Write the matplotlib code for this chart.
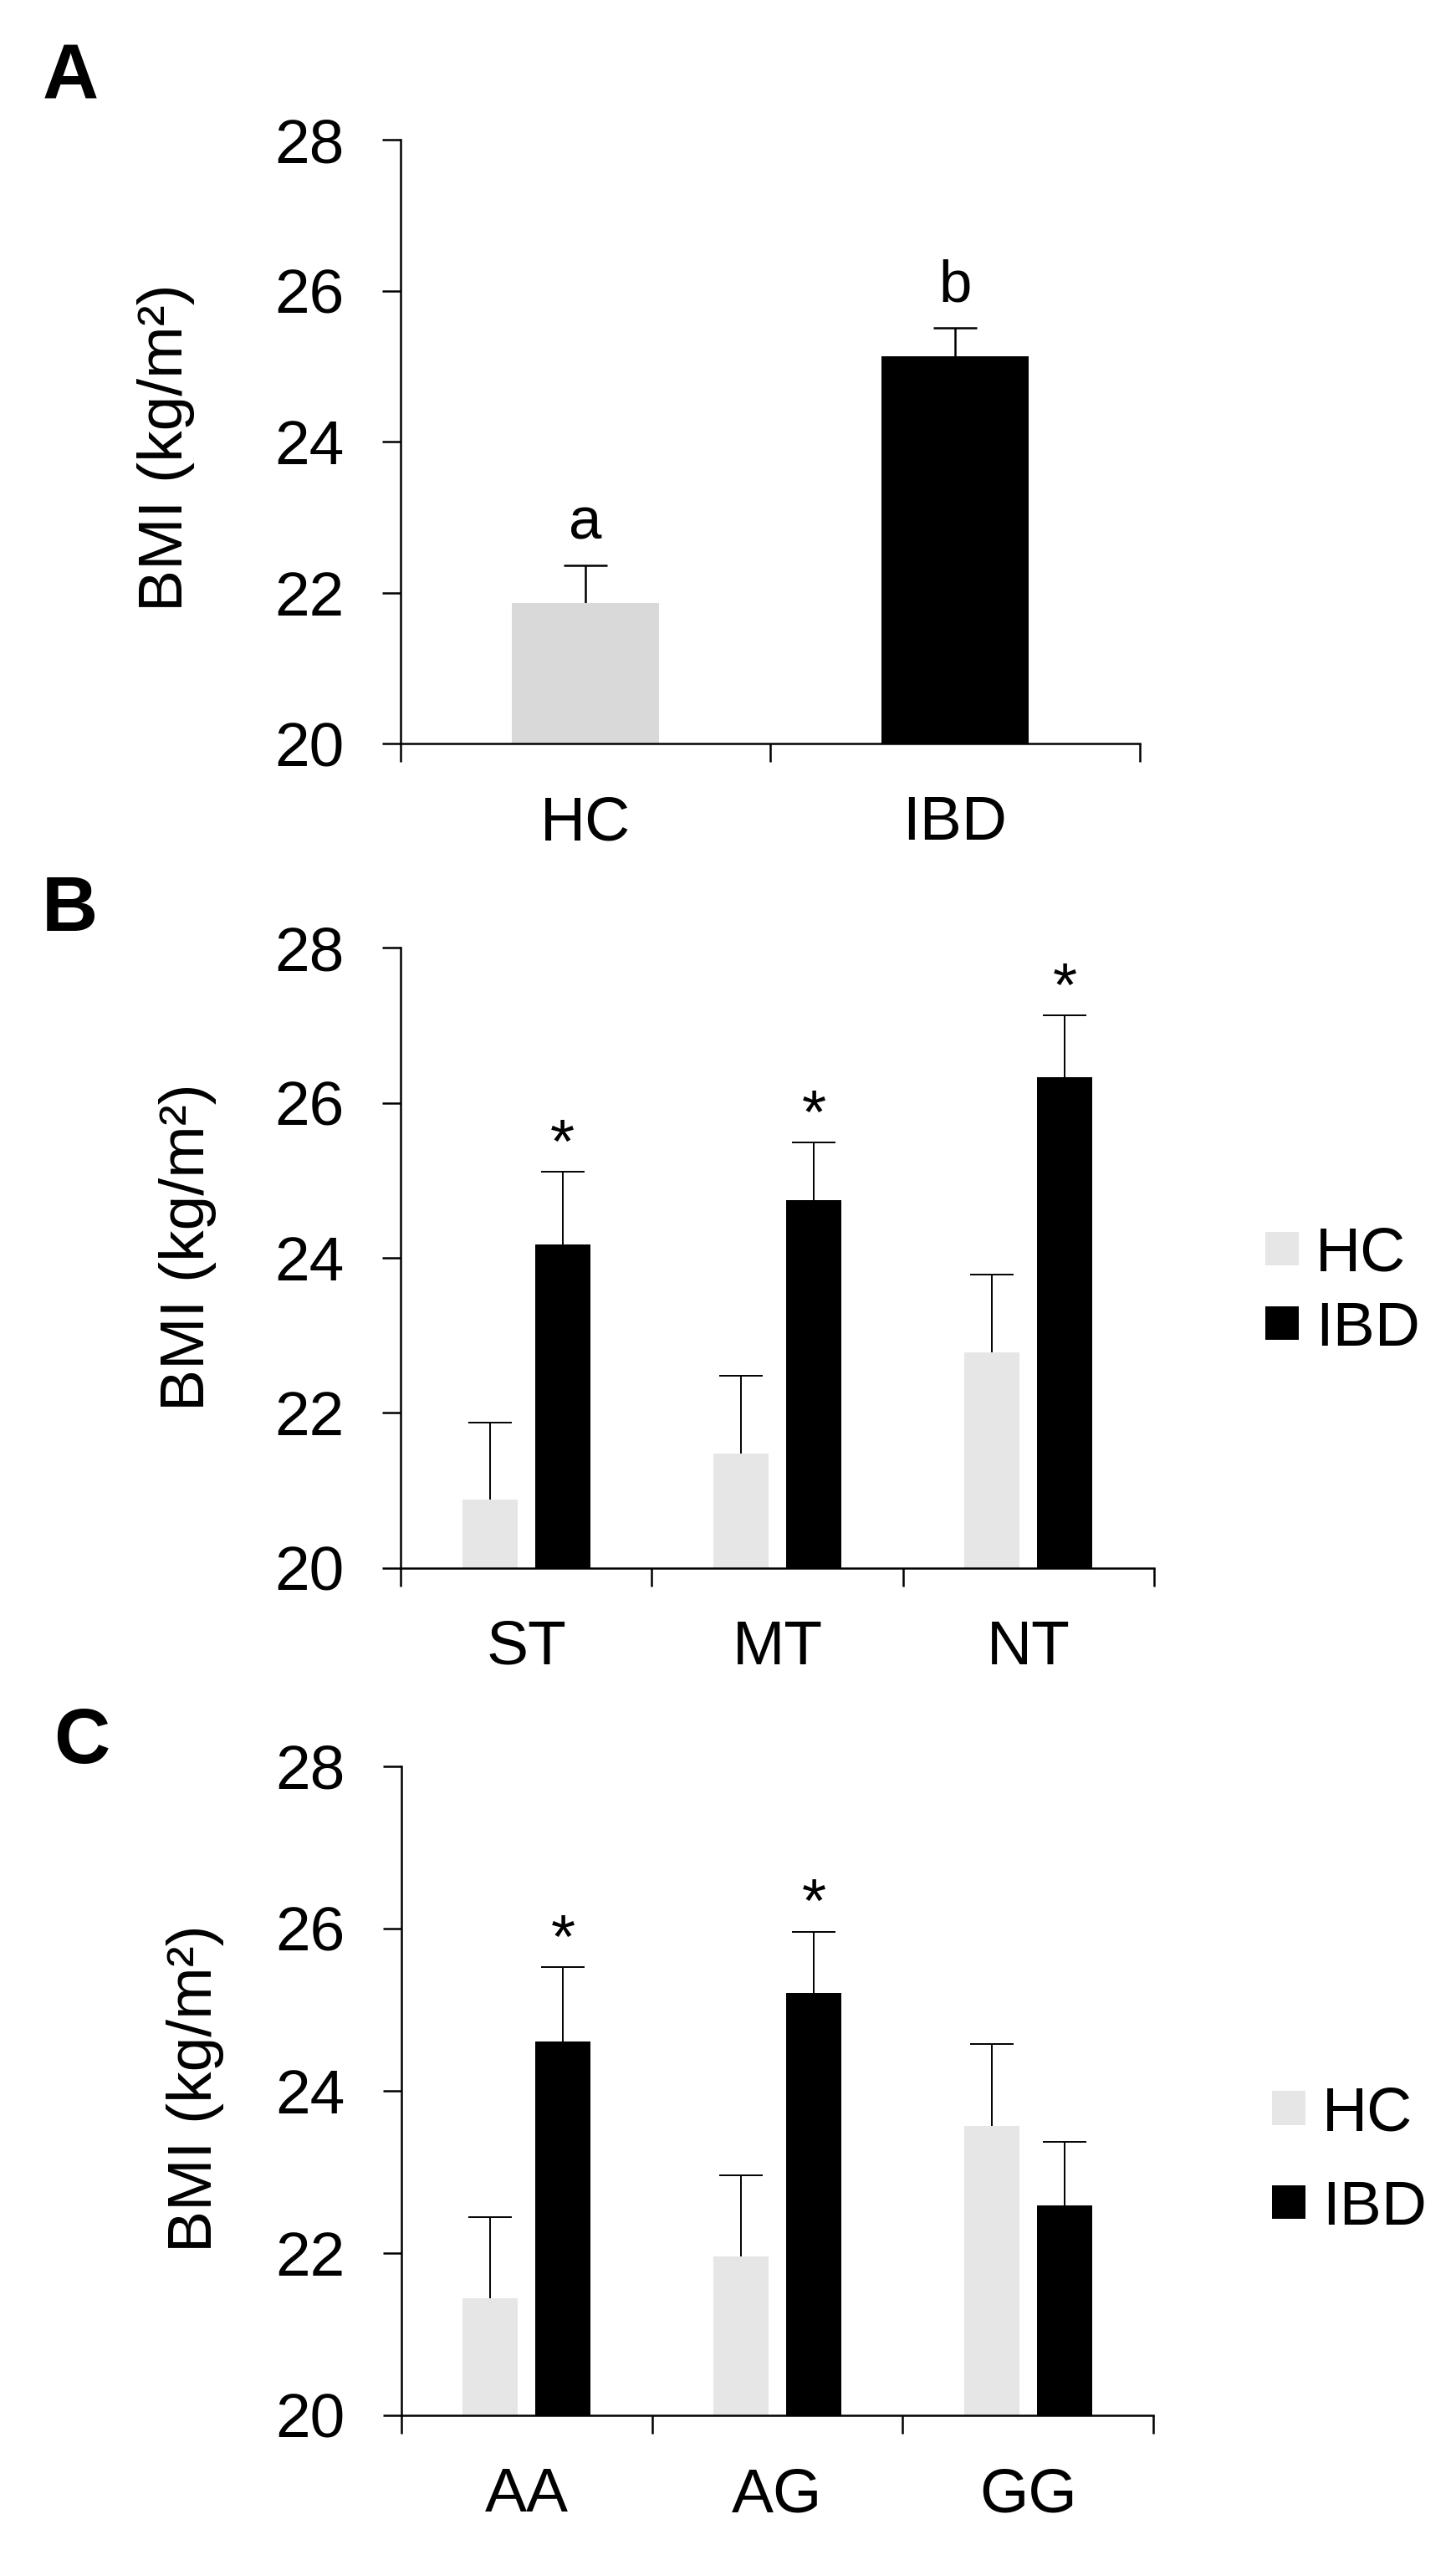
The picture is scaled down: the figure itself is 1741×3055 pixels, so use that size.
import matplotlib
matplotlib.use('Agg')
import matplotlib.pyplot as plt
import numpy as np

plt.rcParams['font.family'] = ['Liberation Sans', 'DejaVu Sans']

# ---------------- data ----------------
groups_a = ['HC', 'IBD']
bmi_a = [21.86, 25.13]
sem_a = [0.50, 0.38]
letters_a = ['a', 'b']

cat_b = ['ST', 'MT', 'NT']
hc_b = [20.88, 21.48, 22.78]
hc_b_sem = [1.00, 1.00, 1.00]
ibd_b = [24.17, 24.74, 26.33]
ibd_b_sem = [0.94, 0.75, 0.80]
sig_b = ['*', '*', '*']

cat_c = ['AA', 'AG', 'GG']
hc_c = [21.44, 21.96, 23.57]
hc_c_sem = [1.00, 1.00, 1.01]
ibd_c = [24.61, 25.21, 22.59]
ibd_c_sem = [0.91, 0.75, 0.78]
sig_c = ['*', '*', '']

series_names = ['HC', 'IBD']
yticks = [20, 22, 24, 26, 28]
ylabel = 'BMI (kg/m²)'

FS = 54
LW = 1.8

fig = plt.figure(figsize=(17.41, 30.55), dpi=100)
axA = fig.add_axes([0.2751, 0.7090, 0.5078, 0.2363])
axB = fig.add_axes([0.2751, 0.3863, 0.5176, 0.2428])
axC = fig.add_axes([0.2757, 0.0547, 0.5164, 0.2540])


def style(ax, labels, ylab_x, ylab_y):
    n = len(labels)
    ax.set_ylim(20, 28)
    ax.set_xlim(0, n)
    ax.set_yticks(yticks)
    ax.spines[['top', 'right']].set_visible(False)
    for s in ['left', 'bottom']:
        ax.spines[s].set_linewidth(LW)
    ax.set_xticks(np.arange(n + 1))
    ax.set_xticklabels([])
    ax.set_xticks(np.arange(n) + 0.5, minor=True)
    ax.set_xticklabels(labels, minor=True)
    ax.tick_params(axis='x', which='major', length=15.8, width=LW, direction='out')
    ax.tick_params(axis='x', which='minor', length=0, pad=44, labelsize=FS)
    ax.tick_params(axis='y', length=15.8, width=LW, pad=33, labelsize=FS)
    ax.set_ylabel(ylabel, fontsize=FS)
    ax.yaxis.set_label_coords(ylab_x, ylab_y)


# ---------------- Panel A ----------------
xa = np.arange(len(groups_a)) + 0.5
axA.errorbar(xa, bmi_a, yerr=sem_a, fmt='none', ecolor='black',
             elinewidth=1.8, capsize=19, capthick=1.8, zorder=1)
axA.bar(xa, bmi_a, width=0.40, color=['#d9d9d9', '#000000'], zorder=2)
for x, v, e, t in zip(xa, bmi_a, sem_a, letters_a):
    axA.text(x, v + e + 0.35, t, ha='center', va='baseline', fontsize=51)
style(axA, groups_a, -0.2783, 0.49)


# ---------------- grouped panels ----------------
def grouped(ax, cats, hc, hc_sem, ibd, ibd_sem, sig, leg_x, leg_y, spacing):
    c = np.arange(len(cats)) + 0.5
    off = 0.145
    w = 0.22
    ax.errorbar(c - off, hc, yerr=hc_sem, fmt='none', ecolor='black',
                elinewidth=1.4, capsize=19, capthick=1.4, zorder=1)
    ax.errorbar(c + off, ibd, yerr=ibd_sem, fmt='none', ecolor='black',
                elinewidth=1.4, capsize=19, capthick=1.4, zorder=1)
    b1 = ax.bar(c - off, hc, width=w, color='#e6e6e6', zorder=2, label=series_names[0])
    b2 = ax.bar(c + off, ibd, width=w, color='#000000', zorder=2, label=series_names[1])
    for x, v, e, s in zip(c + off, ibd, ibd_sem, sig):
        if s:
            ax.text(x, v + e + 0.12, s, ha='center', va='baseline', fontsize=FS)
    ax.legend(handles=[b1, b2], labels=series_names, loc='center left',
              bbox_to_anchor=(leg_x, leg_y), bbox_transform=fig.transFigure,
              frameon=False, fontsize=FS, handlelength=0.53, handleheight=0.45,
              handletextpad=0.27, labelspacing=spacing, borderpad=0,
              borderaxespad=0)


grouped(axB, cat_b, hc_b, hc_b_sem, ibd_b, ibd_b_sem, sig_b, 1513 / 1741, 0.4943, 0.27)
style(axB, cat_b, -0.2442, 0.517)
grouped(axC, cat_c, hc_c, hc_c_sem, ibd_c, ibd_c_sem, sig_c, 1521 / 1741, 0.1542, 0.58)
style(axC, cat_c, -0.2358, 0.504)

# panel letters
fig.text(0.0293, 0.9617, 'A', fontsize=67, fontweight='bold', ha='left', va='baseline')
fig.text(0.0287, 0.6357, 'B', fontsize=67, fontweight='bold', ha='left', va='baseline')
fig.text(0.0368, 0.3100, 'C', fontsize=67, fontweight='bold', ha='left', va='baseline')

fig.savefig('out.png', dpi=100)
